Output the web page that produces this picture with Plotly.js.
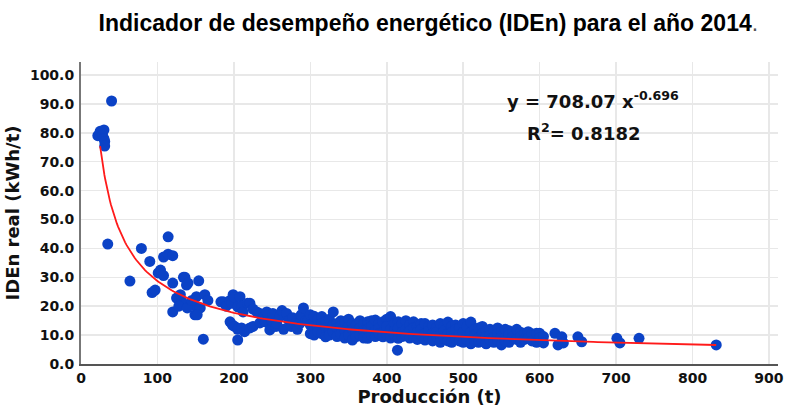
<!DOCTYPE html>
<html>
<head>
<meta charset="utf-8">
<script src="https://cdn.plot.ly/plotly-3.0.1.min.js"></script>
<style>
html,body{margin:0;padding:0;background:#fff;}
#chart{width:786px;height:410px;}
</style>
</head>
<body>
<div id="chart"></div>
<script>
// Producción (t)
const produccion = [
  22,25,28,30,30,31,31,40,35,64,79,90,93,97,101,104,108,108,114,120,114,120,125,132,120,128,130,134,136,138,140,154,147,151,162,156,149,160,139,145,152,166,
  183,186,190,195,197,199,201,205,208,210,212,218,221,225,195,198,201,205,210,214,221,225,205,
  230,234,234,238,241,243,247,250,251,255,256,260,263,265,269,272,275,277,280,283,286,288,291,294,297,
  300,300,300,305,305,305,310,310,310,315,315,315,320,320,320,325,325,325,330,330,330,335,335,335,340,340,340,345,345,345,
  350,350,350,355,355,355,360,360,360,365,365,365,370,370,370,375,375,375,380,380,380,385,385,385,390,390,390,395,395,395,
  400,400,400,405,405,405,410,410,410,415,415,415,414,420,420,420,425,425,425,430,430,430,435,435,435,440,440,440,445,445,445,
  450,450,450,455,455,455,460,460,460,465,465,465,470,470,470,475,475,475,480,480,480,485,485,485,490,490,490,495,495,495,
  500,500,500,505,505,505,510,510,510,515,515,515,520,520,520,525,525,525,530,530,530,535,535,535,540,540,540,545,545,545,
  550,550,550,555,555,555,560,560,560,565,565,570,570,575,575,575,580,580,585,585,590,590,596,596,
  600,600,605,605,620,624,629,631,650,655,701,705,730,831
];
// IDEn real (kWh/t)
const iden = [
  79,80.5,79.5,81,78,77,75.4,91,41.5,28.7,40,35.5,24.7,25.6,31.5,32.5,30.6,37,38,37.5,44,28,22.8,21.5,18,20,24,30,30,27.3,28,28.8,20.4,23.3,24,19.4,17,8.6,19.4,22,17,22,
  21.5,21.5,20,22,21,24,23,19.8,23.3,20,18,21,21,19,14.6,13.5,13,12,12.5,11.2,12.5,13,8.3,
  18,17.5,14.2,16,14.6,18,11.8,15,17.5,13,14,16.4,18.5,12,17.5,15,13,16,14,12,14,17,19.4,15,15,
  17,13.5,10.5,16.5,12,10,15.5,13,11,16.4,14,10.5,14.6,12.5,9.4,15.5,11.5,10,18,13.5,11,14,12.5,9.5,15,13,10.5,14.6,11.5,9,
  15.5,12.9,10,14,12,8.3,13.5,11,9.5,15,12.5,10,14,11.5,9,14.6,12,8.9,15,13,10,15.2,11.5,9.5,14,12.5,10.5,14.6,11,9.4,
  15.5,13,10,16.4,12,9,14,11.5,10,14.6,12.5,8.9,4.8,14,11,9.5,15,12,10,13.5,11.5,9,14.6,12.5,9.4,13,11,8.5,14,12,10,
  14,10.5,8.3,13,11.5,9,13.5,10.5,8,12.5,11,9.5,14,10,7.5,13,11.5,9,14.5,10.5,8,13,11,7.5,13.5,12,9,12.5,10,8,
  14,11,7.5,13,9.5,8.5,14.5,11,7,12,10,8,12.5,9,7.5,13,10.5,8,11.5,9.5,7,12,10,8.5,11.5,9,7.5,12.5,10.5,8,
  11,9.5,6.6,12,9,8,11.5,10,7.5,11,9.5,12,8.5,11,9.5,7.5,10.5,8.5,11.2,9,10.5,8,10.6,7.5,
  10.6,9,9.5,7.3,10.6,6.6,9.4,7.3,9.4,7.7,8.9,7.3,8.9,6.6
];
// Power trend line y = a * x^b
const fitA = 708.07;
const fitB = -0.696;
const fitStart = 25;
const fitEnd = 831;

const fitX = [], fitY = [];
for (let i = 0; i <= 200; i++) {
  const x = fitStart + (fitEnd - fitStart) * Math.pow(i / 200, 1.6);
  fitX.push(x);
  fitY.push(fitA * Math.pow(x, fitB));
}

const tickFont = {family: 'DejaVu Sans, sans-serif', size: 14, color: '#111', weight: 'bold'};

const data = [
  {x: produccion, y: iden, type: 'scatter', mode: 'markers',
   marker: {color: '#0b42c6', size: 11}, hoverinfo: 'skip', showlegend: false},
  {x: fitX, y: fitY, type: 'scatter', mode: 'lines',
   line: {color: '#ff1a1a', width: 1.8}, hoverinfo: 'skip', showlegend: false}
];

const layout = {
  width: 786, height: 410,
  margin: {l: 81, r: 8, t: 62, b: 46},
  paper_bgcolor: '#fff', plot_bgcolor: '#fff',
  title: {text: 'Indicador de desempeño energético (IDEn) para el año 2014<span style="font-weight:normal;color:#555">.</span>',
          font: {family: 'Liberation Sans Narrow, Liberation Sans, Arial, sans-serif', size: 23, color: '#000', weight: 'bold'},
          x: 0.545, xanchor: 'center', y: 0.945, yanchor: 'middle'},
  xaxis: {range: [0, 911.8], dtick: 100, tick0: 0,
          showgrid: true, gridcolor: '#e8e8e8', gridwidth: 1.5,
          showline: true, linecolor: '#555', linewidth: 2, zeroline: false,
          ticks: '', tickfont: tickFont,
          title: {text: 'Producción (t)', font: {family: 'DejaVu Sans, sans-serif', size: 18, color: '#111', weight: 'bold'}, standoff: 4}},
  yaxis: {range: [0, 104.5], dtick: 10, tick0: 0, tickformat: '.1f',
          showgrid: true, gridcolor: '#e8e8e8', gridwidth: 1.5,
          showline: true, linecolor: '#777', linewidth: 2, zeroline: false,
          ticks: '', tickfont: tickFont, ticklabelstandoff: 2,
          title: {text: 'IDEn real (kWh/t)', font: {family: 'DejaVu Sans, sans-serif', size: 18, color: '#111', weight: 'bold'}, standoff: 6}},
  annotations: [
    {xref: 'x', yref: 'y', x: 555, y: 91.3, xanchor: 'left', yanchor: 'middle', showarrow: false,
     text: 'y = 708.07 x<sup style="font-size:14px">-0.696</sup>',
     font: {family: 'DejaVu Sans, sans-serif', size: 18, color: '#111', weight: 'bold'}},
    {xref: 'x', yref: 'y', x: 581, y: 80.3, xanchor: 'left', yanchor: 'middle', showarrow: false,
     text: 'R<sup style="font-size:14px">2</sup>= 0.8182',
     font: {family: 'DejaVu Sans, sans-serif', size: 18, color: '#111', weight: 'bold'}}
  ]
};

Plotly.newPlot('chart', data, layout, {staticPlot: true, displayModeBar: false});
</script>
</body>
</html>
